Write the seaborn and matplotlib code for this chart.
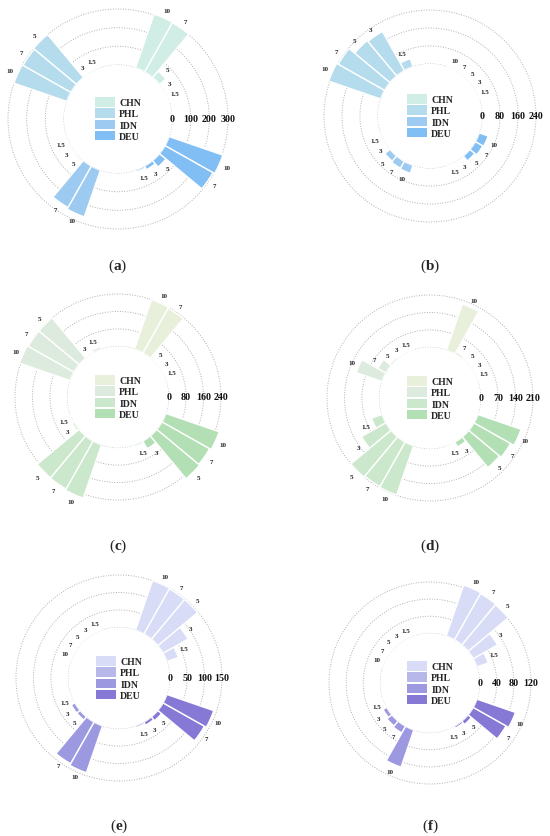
import numpy as np
import matplotlib
matplotlib.use("Agg")
import matplotlib.pyplot as plt
from matplotlib.patches import Patch
import seaborn as sns

# ---------------- data ----------------
countries = ["CHN", "PHL", "IDN", "DEU"]
concs = ["1.5", "3", "5", "7", "10"]

vals_a = [[3, 4, 45, 303, 305], [4, 4, 300, 295, 300], [3, 4, 8, 255, 265], [10, 22, 45, 295, 305]]
vals_b = [[1, 1, 1, 1, 1], [38, 200, 205, 237, 245], [1, 1, 30, 35, 38], [3, 6, 28, 38, 42]]
vals_c = [[2, 3, 6, 235, 240], [12, 3, 240, 240, 245], [6, 10, 250, 252, 258], [8, 40, 255, 250, 258]]
vals_d = [[3, 4, 6, 10, 195], [2, 3, 8, 38, 110], [45, 112, 210, 205, 208], [5, 22, 160, 168, 183]]
vals_e = [[35, 82, 148, 148, 150], [2, 2, 1, 1, 1], [2, 12, 12, 137, 142], [5, 10, 14, 136, 142]]
vals_f = [[28, 65, 122, 124, 126], [1, 1, 1, 1, 1], [2, 10, 15, 18, 92], [3, 5, 10, 88, 95]]

ticks_a = [0, 100, 200, 300]
ticks_b = [0, 80, 160, 240]
ticks_c = [0, 80, 160, 240]
ticks_d = [0, 70, 140, 210]
ticks_e = [0, 50, 100, 150]
ticks_f = [0, 40, 80, 120]

pal_blue = ["#d0ede6", "#b5dcec", "#9ccaf0", "#80bef4"]
pal_green = ["#e8f0dc", "#dcebdd", "#cce8cc", "#b2dfb4"]
pal_purple = ["#d8dcf6", "#b8b7ea", "#9d99e0", "#8679d6"]

captions = ["a", "b", "c", "d", "e", "f"]

# ---------------- style ----------------
sns.set_theme(style="white")
plt.rcParams["font.family"] = ["Liberation Serif", "DejaVu Serif"]
plt.rcParams["mathtext.fontset"] = "custom"
plt.rcParams["mathtext.rm"] = "Liberation Serif"
plt.rcParams["mathtext.bf"] = "Liberation Serif:bold"

W, H = 550, 837
fig = plt.figure(figsize=(W / 100, H / 100), dpi=100)

# panel centres (px from top-left), outer-grid radius (px), caption y (px)
layout = [
    (118, 120, 110, 266),
    (430, 117, 106, 266),
    (118, 398, 103, 546),
    (430, 399, 103, 546),
    (119, 679, 103, 826),
    (430, 684, 101, 826),
]

panels = [
    (vals_a, ticks_a, pal_blue),
    (vals_b, ticks_b, pal_blue),
    (vals_c, ticks_c, pal_green),
    (vals_d, ticks_d, pal_green),
    (vals_e, ticks_e, pal_purple),
    (vals_f, ticks_f, pal_purple),
]

HOLE = 2.9   # in tick steps
TOP = 3.75   # in tick steps
SPACING = 10.4  # degrees between bars

for (vals, ticks, pal), (cx, cy, rout, capy), cap in zip(panels, layout, captions):
    step = ticks[1] - ticks[0]
    h = HOLE * step
    T = TOP * step
    R_ax = rout * (T + h) / (3 * step + h)
    rect = [(cx - R_ax) / W, (H - cy - R_ax) / H, 2 * R_ax / W, 2 * R_ax / H]
    ax = fig.add_axes(rect, projection="polar")
    ax.set_ylim(0, T)
    ax.set_rorigin(-h)
    ax.set_axisbelow(True)
    ppu = R_ax / (T + h)  # px per data unit

    for g, country in enumerate(countries):
        thetas = np.deg2rad(45 + 90 * g + (np.arange(5) - 2) * SPACING)
        ax.bar(thetas, vals[g], width=np.deg2rad(SPACING), bottom=0,
               color=pal[g], edgecolor="white", linewidth=1.0, zorder=2)
        for th, v, lab in zip(thetas, vals[g], concs):
            ax.text(th, v + 8 / ppu, lab, ha="center", va="center",
                    fontsize=5, fontweight="bold", color="#222222", zorder=3)

    ax.set_xticks([])
    ax.set_yticks(ticks)
    ax.set_yticklabels([])
    ax.xaxis.grid(False)
    ax.yaxis.grid(True, color="#b0b0b0", linestyle=(0, (1, 1.6)), linewidth=0.7)
    for sp in ax.spines.values():
        sp.set_edgecolor("none")
        sp.set_linewidth(0)
    ax.patch.set_alpha(0)
    for t in ticks:
        ax.text(0, t, str(t), ha="center", va="center", fontsize=7.2,
                fontweight="bold", color="#111111", zorder=4)

    handles = [Patch(facecolor=c, edgecolor="none") for c in pal]
    ax.legend(handles, countries, loc="center", bbox_to_anchor=(0.5, 0.5),
              frameon=False, prop={"family": "Liberation Serif", "weight": "bold", "size": 7},
              handlelength=2.1, handleheight=1.1, labelspacing=0.12,
              handletextpad=0.4, borderpad=0, borderaxespad=0)

    fig.text(cx / W, 1 - capy / H, r"($\mathbf{%s}$)" % cap, ha="center", va="center",
             fontsize=11, family="Liberation Serif")

fig.savefig("out.png", dpi=100)
